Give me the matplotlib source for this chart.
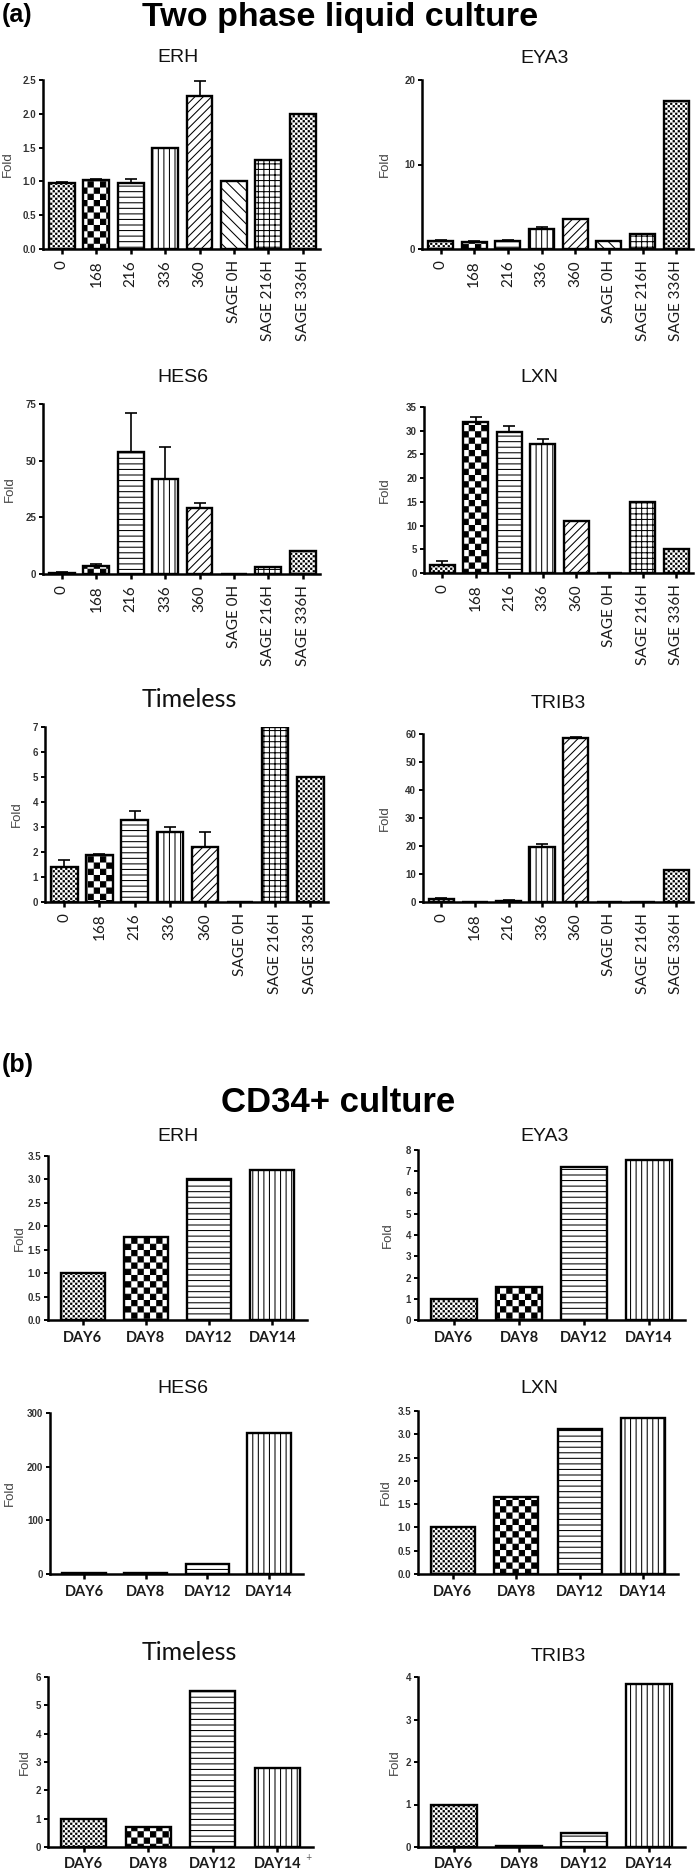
import warnings
import numpy as np
import matplotlib
matplotlib.use('Agg')
import matplotlib.pyplot as plt
import matplotlib.hatch as mhatch
from matplotlib.path import Path

warnings.filterwarnings('ignore')

# ---------------- data ----------------
cats_a = ['0', '168', '216', '336', '360', 'SAGE 0H', 'SAGE 216H', 'SAGE 336H']
cats_b = ['DAY6', 'DAY8', 'DAY12', 'DAY14']

erh_a = [0.97, 1.02, 0.98, 1.49, 2.26, 1.0, 1.32, 2.0]
erh_a_err = [0.02, 0.01, 0.05, 0.01, 0.22, 0, 0, 0]
eya3_a = [1.0, 0.8, 1.0, 2.4, 3.5, 1.0, 1.8, 17.5]
eya3_a_err = [0.1, 0.1, 0.05, 0.2, 0.05, 0, 0, 0]
hes6_a = [0.6, 3.5, 54.0, 42.0, 29.0, 0, 3.0, 10.0]
hes6_a_err = [0.2, 0.8, 17.0, 14.0, 2.5, 0, 0, 0]
lxn_a = [1.7, 31.8, 29.8, 27.2, 11.0, 0, 15.0, 5.0]
lxn_a_err = [0.8, 1.1, 1.1, 1.1, 0, 0, 0, 0]
timeless_a = [1.4, 1.9, 3.3, 2.8, 2.2, 0, 7.0, 5.0]
timeless_a_err = [0.28, 0.02, 0.35, 0.2, 0.6, 0, 0, 0]
trib3_a = [1.0, 0, 0.5, 19.5, 58.5, 0, 0, 11.5]
trib3_a_err = [0.3, 0, 0.1, 1.2, 0.6, 0, 0, 0]

erh_b = [1.0, 1.77, 3.0, 3.2]
eya3_b = [1.0, 1.55, 7.2, 7.55]
hes6_b = [1.0, 1.5, 18.0, 263.0]
lxn_b = [1.0, 1.65, 3.12, 3.35]
timeless_b = [1.0, 0.7, 5.5, 2.8]
trib3_b = [1.0, 0.03, 0.32, 3.83]

yt_erh_a = [0.0, 0.5, 1.0, 1.5, 2.0, 2.5]
yt_eya3_a = [0, 10, 20]
yt_hes6_a = [0, 25, 50, 75]
yt_lxn_a = [0, 5, 10, 15, 20, 25, 30, 35]
yt_timeless_a = [0, 1, 2, 3, 4, 5, 6, 7]
yt_trib3_a = [0, 10, 20, 30, 40, 50, 60]
yt_erh_b = [0.0, 0.5, 1.0, 1.5, 2.0, 2.5, 3.0, 3.5]
yt_eya3_b = [0, 1, 2, 3, 4, 5, 6, 7, 8]
yt_hes6_b = [0, 100, 200, 300]
yt_lxn_b = [0.0, 0.5, 1.0, 1.5, 2.0, 2.5, 3.0, 3.5]
yt_timeless_b = [0, 1, 2, 3, 4, 5, 6]
yt_trib3_b = [0, 1, 2, 3, 4]

# ---------------- custom checkerboard hatches ----------------
class _Checker(mhatch.HatchPatternBase):
    char = 'c'
    cells = 16
    inset = 0.005

    def __init__(self, hatch, density):
        self.n = self.cells
        on = bool(hatch) and (self.char in hatch)
        self.num_vertices = (self.n * self.n // 2) * 5 if on else 0

    def set_vertices_and_codes(self, vertices, codes):
        n = self.n
        s = 1.0 / n
        ins = self.inset
        base = np.array([[ins, ins], [s - ins, ins], [s - ins, s - ins],
                         [ins, s - ins], [ins, ins]])
        bc = [Path.MOVETO, Path.LINETO, Path.LINETO, Path.LINETO, Path.CLOSEPOLY]
        parts = []
        for i in range(n):
            for j in range(n):
                if (i + j) % 2 == 0:
                    parts.append(base + [i * s, j * s])
        vertices[:] = np.concatenate(parts)
        codes[:] = np.tile(bc, len(parts))


class _FineChecker(_Checker):
    char = 'k'
    cells = 40
    inset = 0.0066


mhatch._hatch_types.append(_Checker)
mhatch._hatch_types.append(_FineChecker)
mhatch._validate_hatch_pattern = lambda h: None

plt.rcParams['hatch.linewidth'] = 0.75

hatch_a = ['k', 'c', '---', '|||', '////', '\\\\\\', '+++', 'k']
hatch_b = ['k', 'c', '---', '|||']

W, H = 700, 1870
fig = plt.figure(figsize=(W / 100, H / 100), dpi=100)
fig.patch.set_facecolor('white')


def fx(x):
    return x / W


def fy(y):
    return 1 - y / H


def fmt_ticks(t):
    if any(isinstance(v, float) for v in t):
        return ['%.1f' % v for v in t]
    return ['%d' % v for v in t]


def panel(box, cats, vals, errs, hatches, yticks, title, title_xy, title_font,
          title_size, ylab_x, rot, width, xlim, xfont_size, xpad, xweight):
    l, r, t, b = box
    ax = fig.add_axes([fx(l), fy(b), (r - l) / W, (b - t) / H])
    x = np.arange(len(cats))
    bars = ax.bar(x, vals, width, color='white', edgecolor='black',
                  linewidth=1.7, zorder=2)
    for p, h in zip(bars, hatches):
        p.set_hatch(h)
    if errs is not None:
        e = np.asarray(errs, dtype=float)
        m = e > 0
        v = np.asarray(vals, dtype=float)
        ax.errorbar(x[m], v[m], yerr=[np.zeros(m.sum()), e[m]], fmt='none',
                    ecolor='black', elinewidth=1.2, capsize=4, capthick=1.2,
                    zorder=1)
    ax.set_xlim(*xlim)
    ax.set_ylim(0, yticks[-1])
    for s in ['top', 'right']:
        ax.spines[s].set_visible(False)
    for s in ['left', 'bottom']:
        ax.spines[s].set_linewidth(1.8)
    ax.set_yticks(yticks)
    ax.set_yticklabels(fmt_ticks(yticks), fontsize=7, fontweight='bold',
                       family='Liberation Sans', color='#333333')
    ax.set_xticks(x)
    ax.set_xticklabels(cats, rotation=rot, fontsize=xfont_size,
                       family='Lato', color='#1a1a1a', fontweight=xweight)
    ax.tick_params(axis='y', direction='out', length=3, width=1.4, pad=2)
    ax.tick_params(axis='x', direction='out', length=3.5, width=1.8, pad=xpad)
    ax.set_facecolor('white')
    fig.text(fx(title_xy[0]), fy(title_xy[1]), title, ha='center',
             va='baseline', fontsize=title_size, family=title_font,
             color='#111111')
    fig.text(fx(ylab_x), fy((t + b) / 2), 'Fold', rotation=90, ha='center',
             va='center', fontsize=9.5, family='Liberation Sans',
             color='#444444')
    return ax


# ---------------- headings ----------------
fig.text(fx(2), fy(22), '(a)', fontsize=18, fontweight='bold',
         family='Liberation Sans', ha='left', va='baseline')
fig.text(fx(340), fy(26), 'Two phase liquid culture', fontsize=24.5,
         fontweight='bold', family='Liberation Sans', ha='center',
         va='baseline')
fig.text(fx(2), fy(1072), '(b)', fontsize=18, fontweight='bold',
         family='Liberation Sans', ha='left', va='baseline')
fig.text(fx(338), fy(1112), 'CD34+ culture', fontsize=25,
         fontweight='bold', family='Liberation Sans', ha='center',
         va='baseline')

XA = (-0.55, 7.5)
XB = (-0.55, 3.55)

# ---------------- panel (a) ----------------
panel((43, 320, 80, 249), cats_a, erh_a, erh_a_err, hatch_a, yt_erh_a,
      'ERH', (178, 62), 'Liberation Sans', 14, 8, 90, 0.75, XA, 11, 4.5,
      'normal')
panel((422, 693, 80, 249), cats_a, eya3_a, eya3_a_err, hatch_a, yt_eya3_a,
      'EYA3', (545, 63), 'Liberation Sans', 14, 385, 90, 0.75, XA, 11, 4.5,
      'normal')
panel((43, 320, 404, 574), cats_a, hes6_a, hes6_a_err, hatch_a, yt_hes6_a,
      'HES6', (183, 382), 'Liberation Sans', 14, 10, 90, 0.75, XA, 11, 4.5,
      'normal')
panel((424, 693, 407, 573), cats_a, lxn_a, lxn_a_err, hatch_a, yt_lxn_a,
      'LXN', (539, 382), 'Liberation Sans', 14, 385, 90, 0.75, XA, 11, 4.5,
      'normal')
panel((45, 328, 727, 902), cats_a, timeless_a, timeless_a_err, hatch_a,
      yt_timeless_a, 'Timeless', (189, 707), 'Lato', 18, 17, 90, 0.75, XA,
      11, 4.5, 'normal')
panel((423, 693, 734, 902), cats_a, trib3_a, trib3_a_err, hatch_a,
      yt_trib3_a, 'TRIB3', (558, 708), 'Liberation Sans', 14, 385, 90, 0.75,
      XA, 11, 4.5, 'normal')

# ---------------- panel (b) ----------------
panel((48, 307, 1156, 1320), cats_b, erh_b, None, hatch_b, yt_erh_b,
      'ERH', (178, 1141), 'Liberation Sans', 14, 20, 0, 0.7, XB, 10.5, 4.5,
      'bold')
panel((418, 685, 1150, 1320), cats_b, eya3_b, None, hatch_b, yt_eya3_b,
      'EYA3', (545, 1141), 'Liberation Sans', 14, 388, 0, 0.7, XB, 10.5, 4.5,
      'bold')
panel((50, 303, 1413, 1574), cats_b, hes6_b, None, hatch_b, yt_hes6_b,
      'HES6', (183, 1393), 'Liberation Sans', 14, 10, 0, 0.7, XB, 10.5, 4.5,
      'bold')
panel((418, 678, 1411, 1574), cats_b, lxn_b, None, hatch_b, yt_lxn_b,
      'LXN', (539, 1393), 'Liberation Sans', 14, 386, 0, 0.7, XB, 10.5, 4.5,
      'bold')
panel((48, 313, 1677, 1847), cats_b, timeless_b, None, hatch_b,
      yt_timeless_b, 'Timeless', (189, 1660), 'Lato', 18, 25, 0, 0.7, XB,
      10.5, 3.5, 'bold')
panel((418, 685, 1677, 1847), cats_b, trib3_b, None, hatch_b, yt_trib3_b,
      'TRIB3', (558, 1661), 'Liberation Sans', 14, 395, 0, 0.7, XB, 10.5,
      3.5, 'bold')

fig.text(fx(308), fy(1858), '+', fontsize=5.5, color='#555555', ha='center',
         va='center')

fig.savefig('out.png', dpi=100, facecolor='white')
